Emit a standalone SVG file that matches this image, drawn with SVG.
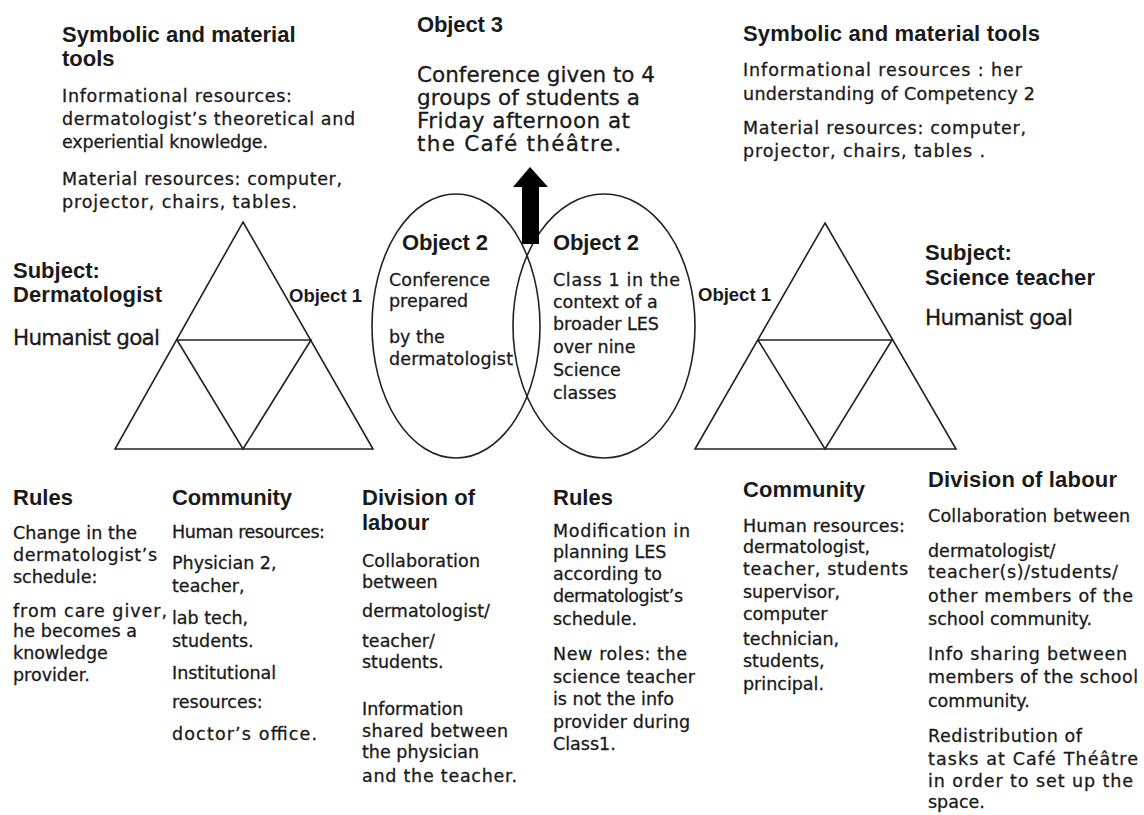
<svg xmlns="http://www.w3.org/2000/svg" width="1144" height="815" viewBox="0 0 1144 815">
<style>
text{fill:#1a1a1a}
.h{font-family:"Liberation Sans",Arial,sans-serif;font-weight:bold;font-size:22px}
.o1{font-family:"Liberation Sans",Arial,sans-serif;font-weight:bold;font-size:18.5px}
.b{font-family:"DejaVu Sans","Noto Sans",sans-serif;font-size:17.5px;stroke:#1a1a1a;stroke-width:0.3}
.big{font-family:"DejaVu Sans","Noto Sans",sans-serif;font-size:21.5px;stroke:#1a1a1a;stroke-width:0.3}
.shape{fill:none;stroke:#222;stroke-width:1.6}
</style>
<rect width="1144" height="815" fill="#fff"/>

<g id="tools-left">
<text class="h" x="62" y="42">Symbolic and material</text>
<text class="h" x="62" y="66">tools</text>
<text class="b" x="62" y="102" textLength="230">Informational resources:</text>
<text class="b" x="62" y="125" textLength="293">dermatologist’s theoretical and</text>
<text class="b" x="62" y="148" textLength="206">experiential knowledge.</text>
<text class="b" x="62" y="185" textLength="280">Material resources: computer,</text>
<text class="b" x="62" y="208" textLength="235">projector, chairs, tables.</text>
</g>

<g id="object3">
<text class="h" x="417" y="32" textLength="86">Object 3</text>
<text class="big" x="417" y="82" textLength="238">Conference given to 4</text>
<text class="big" x="417" y="105" textLength="223">groups of students a</text>
<text class="big" x="417" y="128" textLength="213">Friday afternoon at</text>
<text class="big" x="417" y="151" textLength="204">the Café théâtre.</text>
</g>

<g id="tools-right">
<text class="h" x="743" y="41" textLength="297">Symbolic and material tools</text>
<text class="b" x="743" y="76" textLength="279">Informational resources : her</text>
<text class="b" x="743" y="100" textLength="292">understanding of Competency 2</text>
<text class="b" x="743" y="134" textLength="283">Material resources: computer,</text>
<text class="b" x="743" y="157" textLength="242">projector, chairs, tables .</text>
</g>

<g id="subject-left">
<text class="h" x="13" y="278">Subject:</text>
<text class="h" x="13" y="302" textLength="149">Dermatologist</text>
<text class="big" x="13" y="345" textLength="147">Humanist goal</text>
</g>

<g id="activity-left">
<polygon class="shape" points="243,222 373,449 115,449"/>
<polyline class="shape" points="177,340 311,340 243,449 177,340"/>
</g>

<g id="object1-left">
<text class="o1" x="289" y="302" textLength="73">Object 1</text>
</g>

<g id="object2-left">
<ellipse class="shape" cx="456" cy="326" rx="84" ry="132"/>
<text class="h" x="402" y="250" textLength="86">Object 2</text>
<text class="b" x="389" y="286" textLength="101">Conference</text>
<text class="b" x="389" y="307">prepared</text>
<text class="b" x="389" y="343">by the</text>
<text class="b" x="389" y="365" textLength="124">dermatologist</text>
</g>

<g id="object2-right">
<ellipse class="shape" cx="604" cy="326" rx="91" ry="132"/>
<text class="h" x="553" y="250" textLength="86">Object 2</text>
<text class="b" x="553" y="286" textLength="127">Class 1 in the</text>
<text class="b" x="553" y="308">context of a</text>
<text class="b" x="553" y="330">broader LES</text>
<text class="b" x="553" y="353">over nine</text>
<text class="b" x="553" y="376">Science</text>
<text class="b" x="553" y="399">classes</text>
</g>

<g id="object1-right">
<text class="o1" x="698" y="301" textLength="73">Object 1</text>
</g>

<g id="activity-right">
<polygon class="shape" points="825,223 956,449 695,449"/>
<polyline class="shape" points="758,340 892,340 825,449 758,340"/>
</g>

<g id="subject-right">
<text class="h" x="925" y="260">Subject:</text>
<text class="h" x="925" y="285" textLength="170">Science teacher</text>
<text class="big" x="925" y="325" textLength="148">Humanist goal</text>
</g>

<g id="rules-left">
<text class="h" x="13" y="505">Rules</text>
<text class="b" x="13" y="539" textLength="124">Change in the</text>
<text class="b" x="13" y="561" textLength="144">dermatologist’s</text>
<text class="b" x="13" y="583">schedule:</text>
<text class="b" x="13" y="617" textLength="154">from care giver,</text>
<text class="b" x="13" y="637" textLength="124">he becomes a</text>
<text class="b" x="13" y="659">knowledge</text>
<text class="b" x="13" y="681">provider.</text>
</g>

<g id="community-left">
<text class="h" x="172" y="505" textLength="120">Community</text>
<text class="b" x="172" y="538" textLength="153">Human resources:</text>
<text class="b" x="172" y="569">Physician 2,</text>
<text class="b" x="172" y="592">teacher,</text>
<text class="b" x="172" y="624">lab tech,</text>
<text class="b" x="172" y="647">students.</text>
<text class="b" x="172" y="679">Institutional</text>
<text class="b" x="172" y="708">resources:</text>
<text class="b" x="172" y="740" textLength="145">doctor’s office.</text>
</g>

<g id="division-left">
<text class="h" x="362" y="505" textLength="113">Division of</text>
<text class="h" x="362" y="530">labour</text>
<text class="b" x="362" y="567" textLength="118">Collaboration</text>
<text class="b" x="362" y="588">between</text>
<text class="b" x="362" y="617" textLength="128">dermatologist/</text>
<text class="b" x="362" y="647">teacher/</text>
<text class="b" x="362" y="668">students.</text>
<text class="b" x="362" y="715">Information</text>
<text class="b" x="362" y="737" textLength="146">shared between</text>
<text class="b" x="362" y="758">the physician</text>
<text class="b" x="362" y="782" textLength="155">and the teacher.</text>
</g>

<g id="rules-right">
<text class="h" x="553" y="505">Rules</text>
<text class="b" x="553" y="537" textLength="137">Modification in</text>
<text class="b" x="553" y="558">planning LES</text>
<text class="b" x="553" y="580">according to</text>
<text class="b" x="553" y="602" textLength="130">dermatologist’s</text>
<text class="b" x="553" y="625">schedule.</text>
<text class="b" x="553" y="660" textLength="134">New roles: the</text>
<text class="b" x="553" y="683" textLength="142">science teacher</text>
<text class="b" x="553" y="705">is not the info</text>
<text class="b" x="553" y="728" textLength="137">provider during</text>
<text class="b" x="553" y="750">Class1.</text>
</g>

<g id="community-right">
<text class="h" x="743" y="497" textLength="122">Community</text>
<text class="b" x="743" y="532" textLength="162">Human resources:</text>
<text class="b" x="743" y="553">dermatologist,</text>
<text class="b" x="743" y="575" textLength="165">teacher, students</text>
<text class="b" x="743" y="598">supervisor,</text>
<text class="b" x="743" y="620">computer</text>
<text class="b" x="743" y="645">technician,</text>
<text class="b" x="743" y="667">students,</text>
<text class="b" x="743" y="690">principal.</text>
</g>

<g id="division-right">
<text class="h" x="928" y="487" textLength="189">Division of labour</text>
<text class="b" x="928" y="522" textLength="202">Collaboration between</text>
<text class="b" x="928" y="557">dermatologist/</text>
<text class="b" x="928" y="578" textLength="190">teacher(s)/students/</text>
<text class="b" x="928" y="602" textLength="205">other members of the</text>
<text class="b" x="928" y="625" textLength="164">school community.</text>
<text class="b" x="928" y="660" textLength="199">Info sharing between</text>
<text class="b" x="928" y="683" textLength="210">members of the school</text>
<text class="b" x="928" y="707">community.</text>
<text class="b" x="928" y="742" textLength="154">Redistribution of</text>
<text class="b" x="928" y="765" textLength="210">tasks at Café Théâtre</text>
<text class="b" x="928" y="787" textLength="205">in order to set up the</text>
<text class="b" x="928" y="808">space.</text>
</g>

<g id="connectors">
<polygon points="530,167 548,187 539,187 539,244 522,244 522,187 513,187" fill="#000"/>
</g>
</svg>
